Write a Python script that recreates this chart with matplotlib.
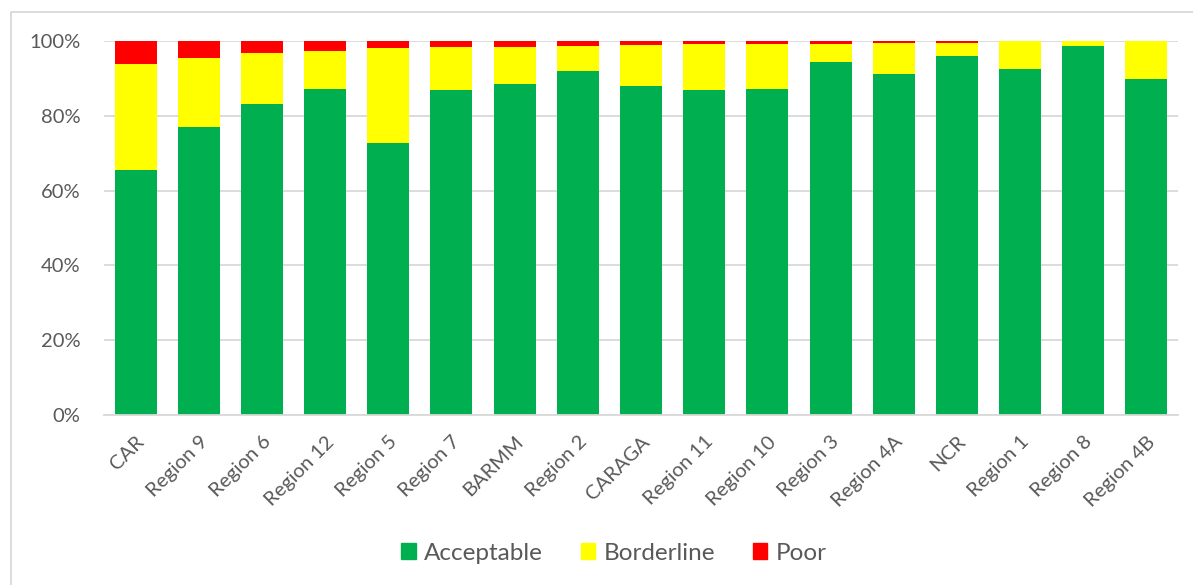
import matplotlib
matplotlib.use("Agg")
import matplotlib.pyplot as plt
from matplotlib.lines import Line2D
from matplotlib.patches import Patch
from matplotlib.ticker import PercentFormatter

regions = ["CAR", "Region 9", "Region 6", "Region 12", "Region 5", "Region 7",
           "BARMM", "Region 2", "CARAGA", "Region 11", "Region 10", "Region 3",
           "Region 4A", "NCR", "Region 1", "Region 8", "Region 4B"]
acceptable = [65.5, 77.0, 83.2, 87.2, 72.6, 86.9, 88.6, 91.9, 88.0,
              86.9, 87.2, 94.4, 91.1, 96.1, 92.6, 98.7, 89.9]
borderline = [28.4, 18.5, 13.7, 10.2, 25.4, 11.6, 9.9, 6.8, 11.0,
              12.4, 12.1, 4.9, 8.4, 3.4, 7.4, 1.3, 10.1]
poor = [6.1, 4.5, 3.1, 2.6, 2.0, 1.5, 1.5, 1.3, 1.0,
        0.7, 0.7, 0.7, 0.5, 0.5, 0.0, 0.0, 0.0]

GREEN = "#00B050"
YELLOW = "#FFFF00"
RED = "#FF0000"
TEXT = "#595959"
GRID = "#D9D9D9"

plt.rcParams["font.family"] = ["Lato", "DejaVu Sans"]

W, H = 1193, 585
fig = plt.figure(figsize=(W / 100, H / 100), dpi=100)
ax = fig.add_axes([104 / W, (H - 415) / H, (1178 - 104) / W, (415 - 41) / H])

x = range(len(regions))
width = 0.665
base2 = [a + b for a, b in zip(acceptable, borderline)]
ax.bar(x, acceptable, width, color=GREEN, zorder=3)
ax.bar(x, borderline, width, bottom=acceptable, color=YELLOW, zorder=3)
ax.bar(x, poor, width, bottom=base2, color=RED, zorder=3)

ax.set_xlim(-0.5, len(regions) - 0.5)
ax.set_ylim(0, 100)
ax.set_yticks([0, 20, 40, 60, 80, 100])
ax.yaxis.set_major_formatter(PercentFormatter(100, decimals=0))
ax.grid(axis="y", color=GRID, linewidth=1.3, zorder=0)
for side in ["top", "right", "left"]:
    ax.spines[side].set_visible(False)
ax.spines["bottom"].set_color(GRID)
ax.spines["bottom"].set_linewidth(1.3)
ax.spines["bottom"].set_zorder(4)

ax.tick_params(axis="y", length=0, pad=17, labelsize=14.5, labelcolor=TEXT)
ax.tick_params(axis="x", length=0, pad=13, labelsize=14.5, labelcolor=TEXT)
ax.set_xticks(list(x))
ax.set_xticklabels(regions, rotation=45, ha="right", rotation_mode="anchor")

handles = [Patch(color=GREEN, label="Acceptable"),
           Patch(color=YELLOW, label="Borderline"),
           Patch(color=RED, label="Poor")]
fig.legend(handles=handles, loc="center", bbox_to_anchor=(614 / W, 1 - 553 / H),
           ncol=3, frameon=False, fontsize=17.5, labelcolor=TEXT,
           handlelength=0.6, handleheight=0.6, handletextpad=0.35,
           columnspacing=1.55)

# chart area outline (left and top edges)
bx, by = 10.5 / W, 1 - 12 / H
fig.add_artist(Line2D([bx, bx, 1], [0, by, by], transform=fig.transFigure,
                      color=GRID, linewidth=1.3))

fig.savefig("out.png", dpi=100)
